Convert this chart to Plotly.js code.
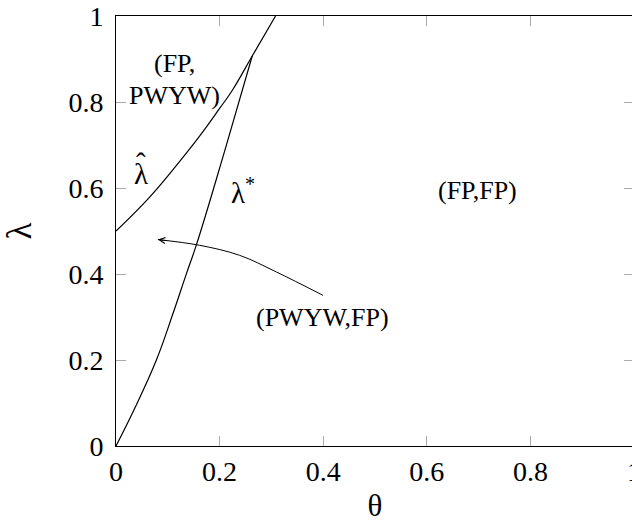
<!DOCTYPE html>
<html>
<head>
<meta charset="utf-8">
<script src="https://cdn.plot.ly/plotly-3.0.1.min.js"></script>
<style>
html, body { margin:0; padding:0; overflow:hidden; background:#fff; }
#chart { width:645px; height:523px; }
</style>
</head>
<body>
<div id="chart"></div>
<script>
// λ̂ boundary
var hatTheta  = [0, 0.065, 0.123, 0.161, 0.2, 0.225, 0.263, 0.308];
var hatLambda = [0.5, 0.579, 0.662, 0.72, 0.785, 0.828, 0.907, 1.0];

// λ* boundary
var starTheta  = [0, 0.035, 0.078, 0.11, 0.136, 0.155, 0.21, 0.263];
var starLambda = [0, 0.085, 0.2, 0.308, 0.401, 0.467, 0.687, 0.907];

// curved pointer from the (PWYW,FP) label
var arrowTheta  = [0.3996, 0.3097, 0.2386, 0.1614, 0.0808];
var arrowLambda = [0.3504, 0.4047, 0.4435, 0.4668, 0.4801];

// tick values
var xTicks = [0, 0.2, 0.4, 0.6, 0.8, 1];
var yTicks = [0, 0.2, 0.4, 0.6, 0.8, 1];

// region / curve labels
var labelText  = ['(FP,', 'PWYW)', 'λ', 'ˆ', 'λ<sup>*</sup>', '(FP,FP)', '(PWYW,FP)'];
var labelTheta = [0.113, 0.113, 0.049, 0.049, 0.246, 0.697, 0.399];
var labelLambda= [0.89, 0.814, 0.632, 0.658, 0.592, 0.595, 0.299];
var labelSize  = [26, 26, 29, 29, 29, 26, 26];

var FONT = 'Liberation Serif';

var traces = [
  {x: hatTheta, y: hatLambda, mode: 'lines', line: {color: '#000', width: 1.2, shape: 'spline', smoothing: 1.2}, hoverinfo: 'skip'},
  {x: starTheta, y: starLambda, mode: 'lines', line: {color: '#000', width: 1.2, shape: 'spline', smoothing: 1.2}, hoverinfo: 'skip'},
  {x: arrowTheta, y: arrowLambda, mode: 'lines', line: {color: '#000', width: 1, shape: 'spline'}, hoverinfo: 'skip'}
];

var annotations = labelText.map(function (t, i) {
  return {x: labelTheta[i], y: labelLambda[i], xref: 'x', yref: 'y', text: t,
          showarrow: false, font: {family: FONT, size: labelSize[i], color: '#000'}};
});
var n = arrowTheta.length - 1;
annotations.push({
  x: arrowTheta[n], y: arrowLambda[n], xref: 'x', yref: 'y', text: '',
  showarrow: true, ax: 10, ay: 1.3, arrowhead: 5, arrowsize: 1.2, arrowwidth: 1,
  arrowcolor: '#000', standoff: 0
});

var axisCommon = {
  range: [0, 1], autorange: false, showgrid: false, zeroline: false,
  showline: true, linecolor: '#000', linewidth: 1, mirror: 'ticks',
  ticks: 'inside', ticklen: 10, tickwidth: 1, tickcolor: '#aaaaaa',
  tickfont: {family: FONT, size: 28, color: '#000'}
};

var layout = {
  width: 645, height: 523,
  margin: {l: 116, r: 11, t: 16, b: 77, pad: 0},
  paper_bgcolor: '#fff', plot_bgcolor: '#fff',
  showlegend: false,
  font: {family: FONT, color: '#000'},
  xaxis: Object.assign({}, axisCommon, {
    tickvals: xTicks, ticktext: xTicks.map(String),
    title: {text: 'θ', font: {family: FONT, size: 31, color: '#000'}, standoff: 12}
  }),
  yaxis: Object.assign({}, axisCommon, {
    tickvals: yTicks, ticktext: yTicks.map(String), ticklabelstandoff: 6,
    title: {text: 'λ', font: {family: FONT, size: 35, color: '#000'}, standoff: 26}
  }),
  annotations: annotations
};

Plotly.newPlot('chart', traces, layout, {staticPlot: true, displayModeBar: false});
</script>
</body>
</html>
